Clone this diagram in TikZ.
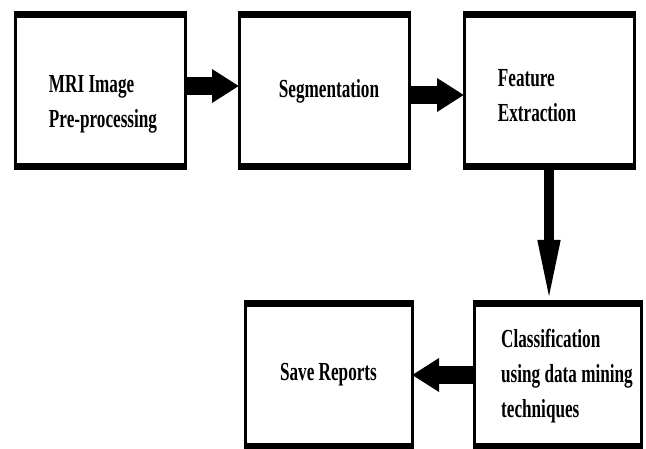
\documentclass[tikz,border=0pt]{standalone}
\usepackage{fontspec}
\setmainfont{Liberation Serif}
\newfontfamily\stagefont[FakeStretch=0.66]{Liberation Serif}
\usetikzlibrary{arrows.meta,positioning}

\begin{document}
\begin{tikzpicture}[x=1pt, y=1pt,
  stage/.style={draw, line width=3pt, minimum width=170pt, minimum height=152pt,
    inner sep=0pt, outer sep=0pt},
  low/.style={stage, minimum width=167pt, minimum height=142pt},
  caption/.style={align=left, inner sep=0pt, font=\fontsize{26}{35}\selectfont\stagefont\bfseries},
  flow/.style={line width=18pt, -{Triangle[length=27pt, width=32pt]}},
  drop/.style={line width=10pt, -{Triangle[length=64pt, width=20pt]}}
]
  \useasboundingbox (0,0) rectangle (646,-449);

  % Top row
  \node[stage, label={[caption, xshift=3pt, yshift=-13pt]center:{MRI Image\\Pre-processing}}] (prep) at (100,-91) {};
  \node[stage, right=54pt of prep, label={[caption, xshift=5pt]center:Segmentation}] (seg) {};
  \node[stage, right=55pt of seg, label={[caption, xshift=-12pt, yshift=-5pt]center:{Feature\\Extraction}}] (feat) {};

  % Bottom row
  \node[low, below=137pt of feat, xshift=9pt, label={[caption, xshift=9pt, yshift=-1pt]center:{Classification\\using data mining\\techniques}}] (cls) {};
  \node[low, left=62.5pt of cls, label={[caption]center:Save Reports}] (save) {};

  % Heavy top and bottom edges
  \foreach \n in {prep,seg,feat,cls,save}{
    \draw[line width=7pt] ([xshift=-1.5pt]\n.north west) -- ([xshift=1.5pt]\n.north east);
    \draw[line width=7pt] ([xshift=-1.5pt]\n.south west) -- ([xshift=1.5pt]\n.south east);
  }

  % Arrows
  \draw[flow] ([yshift=5pt]prep.east) -- ([yshift=5pt]prep.east -| seg.west);
  \draw[flow] ([yshift=-4pt]seg.east) -- ([yshift=-4pt]seg.east -| feat.west);
  \draw[drop] (feat.south) -- (feat.south |- cls.north);
  \draw[flow] (cls.west) -- (cls.west -| save.east);
\end{tikzpicture}
\end{document}
